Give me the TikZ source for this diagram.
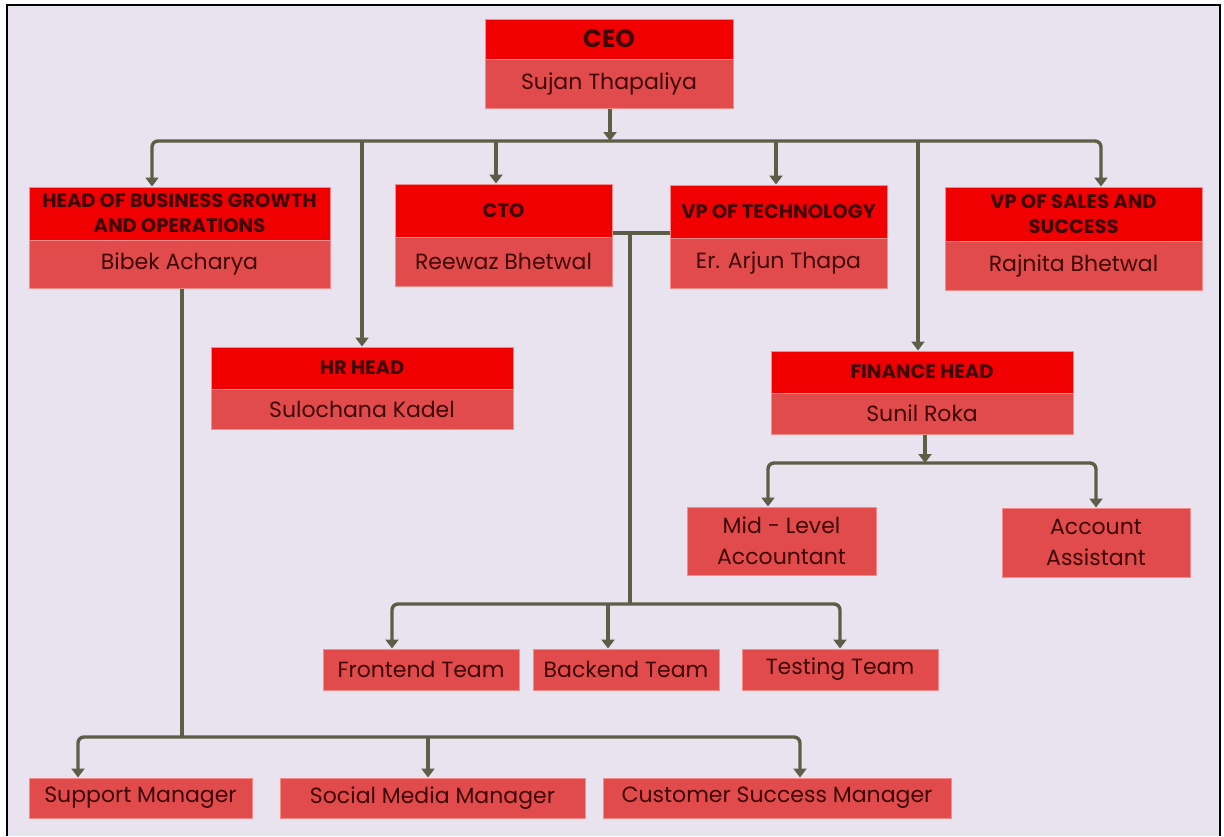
\documentclass[tikz,border=0pt]{standalone}
\usepackage{fontspec}
\setmainfont{Poppins}
\usetikzlibrary{arrows.meta}
\definecolor{bgc}{HTML}{E8E3EE}
\definecolor{hdc}{HTML}{F00000}
\definecolor{nmc}{HTML}{E14B4B}
\definecolor{edc}{HTML}{F48A8A}
\definecolor{txc}{HTML}{3E0606}
\definecolor{lnc}{HTML}{5C5E48}
\tikzset{
  hd/.style={rectangle, fill=hdc, draw=edc, line width=1pt, inner sep=0pt, align=center, text=txc,
    font=\fontsize{19.5}{25}\selectfont\bfseries},
  nm/.style={rectangle, fill=nmc, draw=edc, line width=1pt, inner sep=0pt, align=center, text=txc,
    font=\fontsize{22}{31}\selectfont},
  ln/.style={draw=lnc, line width=3.4pt},
  arr/.style={ln, -{Triangle[width=13pt,length=9pt]}},
  rc/.style={rounded corners=6pt}
}
\begin{document}
\begin{tikzpicture}[x=1pt,y=-1pt]
\useasboundingbox (0,0) rectangle (1224,836);
\fill[white] (0,0) rectangle (1224,836);
\fill[bgc] (7,5) rectangle (1220,836);
\draw[black, line width=2.8pt] (7,836) -- (7,5) -- (1220,5) -- (1220,836);

% boxes
\node[hd, minimum width=248pt, minimum height=40pt, font=\fontsize{25}{30}\selectfont\bfseries] (ceoH) at (609,39) {CEO};
\node[nm, minimum width=248pt, minimum height=49pt] (ceoN) at (609,83.5) {Sujan Thapaliya};

\node[hd, minimum width=301pt, minimum height=53pt] (hbH) at (179.5,213.5) {HEAD OF BUSINESS GROWTH\\AND OPERATIONS};
\node[nm, minimum width=301pt, minimum height=48pt] (hbN) at (179.5,264) {Bibek Acharya};

\node[hd, minimum width=217pt, minimum height=53pt] (ctoH) at (503.5,210.5) {CTO};
\node[nm, minimum width=217pt, minimum height=49pt] (ctoN) at (503.5,261.5) {Reewaz Bhetwal};

\node[hd, minimum width=217pt, minimum height=53pt] (vptH) at (778.5,211.5) {VP OF TECHNOLOGY};
\node[nm, minimum width=217pt, minimum height=50pt] (vptN) at (778.5,263) {Er. Arjun Thapa};

\node[hd, minimum width=257pt, minimum height=54pt] (vpsH) at (1073.5,214) {VP OF SALES AND\\SUCCESS};
\node[nm, minimum width=257pt, minimum height=49pt] (vpsN) at (1073.5,265.5) {Rajnita Bhetwal};

\node[hd, minimum width=302pt, minimum height=42pt] (hrH) at (362,368) {HR HEAD};
\node[nm, minimum width=302pt, minimum height=40pt] (hrN) at (362,409) {Sulochana Kadel};

\node[hd, minimum width=302pt, minimum height=42pt] (finH) at (922,372) {FINANCE HEAD};
\node[nm, minimum width=302pt, minimum height=41pt] (finN) at (922,413.5) {Sunil Roka};

\node[nm, minimum width=189pt, minimum height=68pt] (mid) at (781.5,541) {Mid - Level\\Accountant};
\node[nm, minimum width=188pt, minimum height=69pt] (acc) at (1096,542.5) {Account\\Assistant};

\node[nm, minimum width=196pt, minimum height=41pt] (fe) at (421,669.5) {Frontend Team};
\node[nm, minimum width=186pt, minimum height=41pt] (be) at (626,669.5) {Backend Team};
\node[nm, minimum width=196pt, minimum height=41pt] (te) at (840,669.5) {Testing Team};

\node[nm, minimum width=223pt, minimum height=40pt] (sup) at (140.5,798) {Support Manager};
\node[nm, minimum width=305pt, minimum height=40pt] (soc) at (432.5,798) {Social Media Manager};
\node[nm, minimum width=348pt, minimum height=40pt] (cus) at (777,798) {Customer Success Manager};

% bus coordinates
\coordinate (ceoBus) at (610,141);
\coordinate (dHB) at (152,141);
\coordinate (dHR) at (362,141);
\coordinate (dCTO) at (496,141);
\coordinate (dVPT) at (776,141);
\coordinate (dFIN) at (918,141);
\coordinate (dVPS) at (1101,141);

% CEO connectors
\draw[arr] (ceoN.south -| ceoBus) -- (ceoBus);
\draw[arr, rc] (ceoBus) -- (dHB) -- (dHB |- hbH.north);
\draw[arr, rc] (ceoBus) -- (dVPS) -- (dVPS |- vpsH.north);
\draw[arr] (dHR) -- (dHR |- hrH.north);
\draw[arr] (dCTO) -- (dCTO |- ctoH.north);
\draw[arr] (dVPT) -- (dVPT |- vptH.north);
\draw[arr] (dFIN) -- (dFIN |- finH.north);

% CTO / VP tech connectors
\coordinate (tj) at (630,233);
\coordinate (tb) at (630,604);
\draw[ln] (ctoH.east |- tj) -- (vptH.west |- tj);
\draw[ln] (tj) -- (tb);
\draw[arr, rc] (tb) -- (tb -| 392,0) -- ([xshift=-29pt]fe.north);
\draw[arr, rc] (tb) -- (tb -| te.north) -- (te.north);
\draw[arr] (tb -| 608,0) -- ([xshift=-18pt]be.north);

% HBGO connectors
\coordinate (hj) at (182,737);
\draw[ln] (hbN.south -| hj) -- (hj);
\draw[arr, rc] (hj) -- (hj -| 78,0) -- ([xshift=-62.5pt]sup.north);
\draw[arr, rc] (hj) -- (hj -| 800,0) -- ([xshift=23pt]cus.north);
\draw[arr] (hj -| 428,0) -- ([xshift=-4.5pt]soc.north);

% Finance connectors
\coordinate (fj) at (925,463);
\draw[arr] (finN.south -| fj) -- (fj);
\draw[arr, rc] (fj) -- (fj -| 768,0) -- ([xshift=-13.5pt]mid.north);
\draw[arr, rc] (fj) -- (fj -| acc.north) -- (acc.north);
\end{tikzpicture}
\end{document}
